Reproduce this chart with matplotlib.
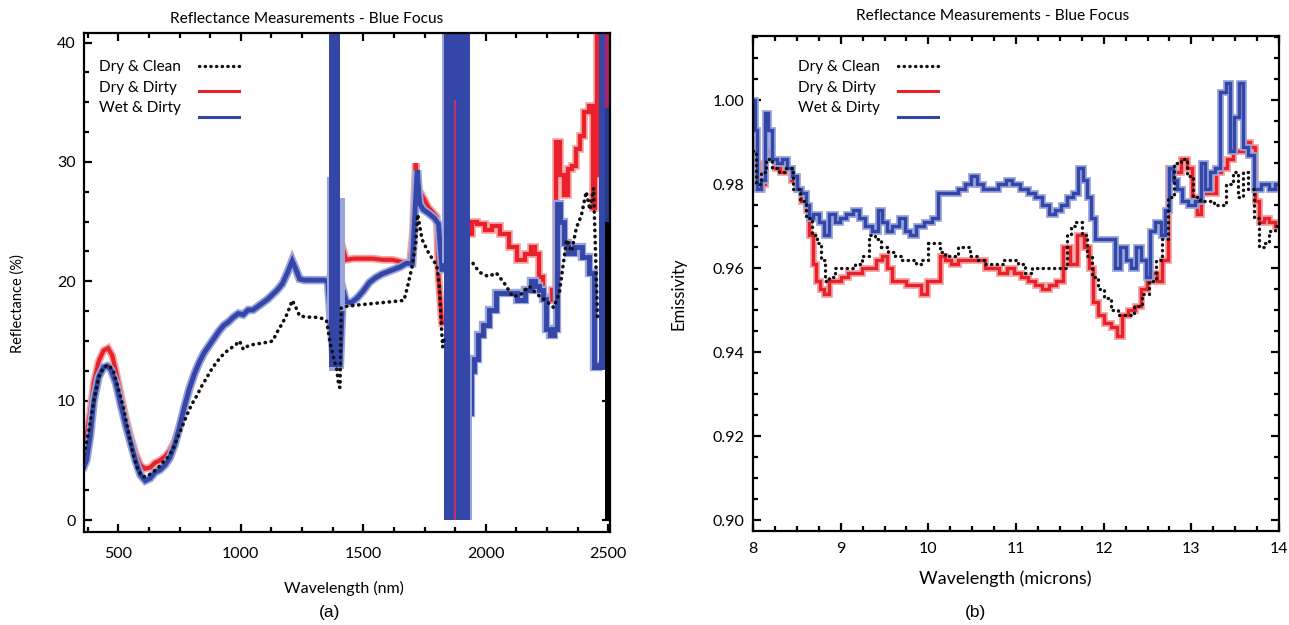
import matplotlib
matplotlib.use("Agg")
import matplotlib.pyplot as plt
from matplotlib.ticker import MultipleLocator, FormatStrFormatter

plt.rcParams['font.family'] = ['Lato', 'DejaVu Sans']

# ---------------- Panel (a): reflectance (nm, %) ----------------
wet_a_x = [360, 370, 385, 400, 420, 440, 455, 470, 490, 510, 530, 550, 570, 590, 610, 630, 650,
           670, 690, 710, 730, 750, 770, 790, 810, 830, 850, 870, 890, 910, 930, 950, 970, 990,
           1010, 1030, 1050, 1070, 1090, 1110, 1130, 1150, 1170, 1190, 1210, 1225, 1240, 1260,
           1300, 1340, 1355, 1380, 1405, 1417, 1430, 1450, 1475, 1500, 1525, 1550, 1575, 1600,
           1625, 1650, 1675, 1700, 1714, 1720, 1730, 1745, 1766, 1790, 1807, 1821]
wet_a_y = [4.5, 5.0, 7.0, 10.0, 12.0, 12.8, 12.9, 12.6, 11.5, 9.7, 8.0, 6.5, 5.0, 3.8, 3.3, 3.5, 4.0,
           4.2, 4.6, 5.2, 6.3, 7.8, 9.5, 11.0, 12.2, 13.2, 14.0, 14.6, 15.2, 15.8, 16.3, 16.6, 17.0, 17.3,
           17.2, 17.6, 17.6, 17.9, 18.2, 18.5, 18.9, 19.3, 19.8, 20.7, 21.7, 21.0, 20.2, 20.1,
           20.1, 20.1, 20.0, 13.0, 13.0, 19.3, 18.3, 18.2, 18.6, 19.2, 19.9, 20.3, 20.6, 20.8,
           21.0, 21.2, 21.5, 21.5, 27.0, 29.3, 26.5, 26.0, 25.7, 25.3, 24.8, 21.0]
wet_a2_x = [1935, 1945, 1960, 1975, 2000, 2027, 2060, 2085, 2110, 2143, 2177, 2194, 2210, 2227,
            2240, 2252, 2270, 2285, 2294, 2310, 2327, 2343, 2376, 2410, 2434, 2450, 2462]
wet_a2_y = [9.0, 12.5, 13.5, 15.5, 16.3, 17.6, 19.0, 19.0, 19.0, 18.4, 19.3, 20.0, 19.6, 19.3,
            18.5, 16.0, 15.5, 16.0, 26.5, 25.0, 23.2, 22.4, 22.9, 22.0, 20.7, 12.8, 13.0]

dry_a_x = [360, 370, 385, 400, 420, 440, 458, 475, 490, 510, 530, 550, 570, 590, 610, 630, 650,
           670, 690, 710, 730, 750, 770, 790, 810, 830, 850, 870, 890, 910, 930, 950, 970, 990,
           1010, 1030, 1050, 1070, 1090, 1110, 1130, 1150, 1170, 1190, 1210, 1225, 1240, 1260,
           1300, 1340, 1355, 1416, 1430, 1460, 1500, 1540, 1580, 1620, 1660, 1690, 1702, 1714,
           1725, 1740, 1766, 1800, 1807, 1821]
dry_a_y = [6.5, 7.0, 9.0, 11.5, 13.3, 14.2, 14.4, 13.8, 12.5, 10.5, 8.6, 7.0, 5.6, 4.6, 4.3, 4.4, 4.8,
           5.0, 5.3, 5.8, 6.6, 7.9, 9.5, 11.0, 12.2, 13.2, 14.0, 14.6, 15.2, 15.8, 16.3, 16.6, 17.0, 17.3,
           17.3, 17.6, 17.6, 17.9, 18.2, 18.5, 18.9, 19.3, 19.8, 20.7, 21.8, 21.0, 20.2, 20.1,
           20.1, 20.1, 20.0, 22.8, 21.8, 21.9, 21.9, 21.9, 21.8, 21.8, 21.6, 21.5, 24.0, 29.9,
           27.0, 27.2, 26.2, 25.4, 20.4, 16.5]
dry_a2_x = [1940, 1949, 1980, 2010, 2043, 2077, 2110, 2143, 2177, 2194, 2210, 2227, 2244, 2260,
            2277, 2294, 2310, 2327, 2343, 2360, 2376, 2393, 2410, 2434, 2442, 2450, 2460]
dry_a2_y = [24.0, 25.0, 24.8, 24.3, 24.6, 24.0, 22.9, 21.8, 22.3, 22.9, 22.3, 20.4, 18.7, 18.4,
            19.3, 31.7, 28.9, 27.2, 29.4, 29.7, 31.1, 32.2, 34.2, 34.7, 26.1, 28.9, 41.0]

clean_a_x = [360, 380, 400, 420, 440, 460, 480, 500, 520, 540, 560, 580, 600, 620, 640, 660, 680,
             700, 720, 740, 760, 780, 800, 820, 840, 860, 880, 900, 920, 940, 960, 980, 995, 1010,
             1030, 1050, 1080, 1110, 1130, 1150, 1170, 1190, 1210, 1225, 1240, 1270, 1300, 1330,
             1350, 1365, 1380, 1392, 1400, 1405, 1410, 1430, 1470, 1520, 1570, 1620, 1666, 1680,
             1700, 1714, 1722, 1740, 1766, 1800, 1810, 1818, 1824, 1832]
clean_a_y = [5.5, 7.5, 10.0, 12.0, 12.8, 13.0, 12.5, 11.0, 9.5, 7.5, 5.5, 4.2, 3.6, 3.7, 4.0, 4.3, 4.8,
             5.2, 5.8, 6.8, 7.8, 8.8, 9.7, 10.4, 11.2, 11.9, 12.6, 13.2, 13.7, 14.1, 14.4, 14.7, 15.0, 14.3,
             14.6, 14.7, 14.8, 14.9, 15.0, 15.8, 16.5, 17.3, 18.4, 17.8, 17.1, 17.0, 17.0, 16.9,
             16.7, 14.8, 13.5, 12.6, 11.2, 11.1, 17.8, 17.9, 18.0, 18.1, 18.2, 18.3, 18.4, 19.5,
             21.3, 23.2, 25.6, 23.5, 22.4, 21.3, 19.6, 16.5, 14.5, 15.5]
clean_a2_x = [1948, 1957, 1980, 2010, 2043, 2077, 2110, 2143, 2177, 2210, 2244, 2277, 2300, 2330,
              2350, 2370, 2390, 2410, 2425, 2440, 2450, 2456]
clean_a2_y = [21.5, 21.2, 20.7, 20.4, 20.7, 19.8, 18.7, 18.9, 19.6, 18.9, 18.4, 17.8, 19.0, 23.5,
              22.5, 24.5, 25.5, 27.5, 26.0, 27.8, 21.0, 17.0]

# noisy absorption bands (x, lower, upper)
band1_x = [1362, 1405]
band1_lo = [12.8, 12.8]
band1_hi = [41.0, 41.0]
band1_halo_x = [1350, 1362, 1405, 1425]
band1_halo_lo = [16.5, 12.5, 17.5, 17.5]
band1_halo_hi = [28.7, 41.0, 27.0, 27.0]
band2_x = [1828, 1935]
band2_lo = [0.0, 0.0]
band2_hi = [41.0, 41.0]
band2_halo_x = [1821, 1830, 1935, 1942]
band2_halo_lo = [21.5, 0.0, 0.0, 0.0]
band2_halo_hi = [41.0, 41.0, 13.0, 13.0]
red_spike_x = 1874
red_spike_top = 35.2
edge_blue_x = [2462, 2488]
edge_blue_lo = [12.6, 12.6]
edge_blue_hi = [41.0, 41.0]
edge_x = [2488, 2507]
edge_black_hi = [25.0, 25.0]
edge_navy_hi = [34.5, 34.5]
edge_red_hi = [41.0, 41.0]

# ---------------- Panel (b): emissivity (microns) ----------------
wet_b_x = [8.00, 8.04, 8.06, 8.12, 8.15, 8.20, 8.24, 8.30, 8.36, 8.42, 8.48, 8.52, 8.58, 8.62, 8.66,
           8.72, 8.78, 8.84, 8.90, 8.96, 9.02, 9.10, 9.18, 9.24, 9.32, 9.40, 9.45, 9.50, 9.55, 9.62,
           9.70, 9.76, 9.82, 9.90, 10.00, 10.08, 10.14, 10.22, 10.30, 10.38, 10.45, 10.52, 10.58,
           10.66, 10.75, 10.85, 10.92, 11.00, 11.10, 11.18, 11.26, 11.34, 11.42, 11.48, 11.55, 11.62,
           11.68, 11.74, 11.78, 11.84, 11.88, 11.92, 12.00, 12.10, 12.16, 12.22, 12.28, 12.34, 12.40,
           12.46, 12.50, 12.55, 12.62, 12.68, 12.72, 12.76, 12.82, 12.86, 12.92, 13.00, 13.08, 13.14,
           13.18, 13.24, 13.30, 13.36, 13.42, 13.46, 13.52, 13.56, 13.62, 13.68, 13.74, 13.85, 13.92,
           14.00]
wet_b_y = [1.000, 0.993, 0.979, 0.981, 0.997, 0.993, 0.986, 0.985, 0.986, 0.984, 0.982, 0.979, 0.978,
           0.975, 0.972, 0.973, 0.971, 0.968, 0.973, 0.971, 0.972, 0.973, 0.974, 0.972, 0.970, 0.969,
           0.974, 0.971, 0.969, 0.970, 0.972, 0.969, 0.968, 0.970, 0.971, 0.972, 0.978, 0.978, 0.978,
           0.979, 0.980, 0.982, 0.980, 0.979, 0.979, 0.980, 0.981, 0.980, 0.979, 0.978, 0.977, 0.975,
           0.973, 0.974, 0.975, 0.977, 0.978, 0.984, 0.981, 0.977, 0.972, 0.967, 0.967, 0.967, 0.960,
           0.965, 0.962, 0.960, 0.965, 0.962, 0.958, 0.969, 0.971, 0.968, 0.974, 0.984, 0.981, 0.979,
           0.976, 0.975, 0.976, 0.985, 0.979, 0.983, 0.984, 1.002, 1.004, 0.988, 0.996, 1.004, 0.989,
           0.987, 0.979, 0.980, 0.979, 0.980]

dry_b_x = [8.00, 8.05, 8.08, 8.12, 8.16, 8.22, 8.28, 8.34, 8.40, 8.46, 8.52, 8.58, 8.62, 8.66, 8.70,
           8.74, 8.78, 8.84, 8.90, 8.96, 9.04, 9.12, 9.20, 9.28, 9.36, 9.44, 9.50, 9.56, 9.62, 9.70,
           9.80, 9.88, 9.95, 10.02, 10.10, 10.16, 10.22, 10.30, 10.38, 10.45, 10.52, 10.62, 10.68,
           10.76, 10.86, 10.94, 11.02, 11.10, 11.18, 11.26, 11.34, 11.42, 11.50, 11.58, 11.66, 11.74,
           11.80, 11.86, 11.90, 11.96, 12.04, 12.12, 12.18, 12.24, 12.32, 12.40, 12.46, 12.52, 12.58,
           12.64, 12.70, 12.76, 12.84, 12.92, 12.98, 13.04, 13.09, 13.14, 13.20, 13.26, 13.30, 13.38,
           13.44, 13.50, 13.58, 13.64, 13.70, 13.75, 13.80, 13.86, 13.92, 14.00]
dry_b_y = [0.991, 0.985, 0.979, 0.980, 0.988, 0.986, 0.984, 0.983, 0.984, 0.981, 0.979, 0.976, 0.974,
           0.968, 0.961, 0.957, 0.955, 0.954, 0.957, 0.957, 0.958, 0.959, 0.959, 0.960, 0.960, 0.962,
           0.963, 0.960, 0.957, 0.957, 0.956, 0.956, 0.954, 0.957, 0.957, 0.963, 0.962, 0.961, 0.962,
           0.962, 0.962, 0.962, 0.960, 0.960, 0.959, 0.960, 0.959, 0.958, 0.957, 0.956, 0.955, 0.956,
           0.957, 0.965, 0.961, 0.968, 0.965, 0.960, 0.952, 0.949, 0.947, 0.946, 0.944, 0.949, 0.950,
           0.951, 0.955, 0.957, 0.959, 0.957, 0.962, 0.984, 0.983, 0.986, 0.984, 0.977, 0.973, 0.980,
           0.978, 0.978, 0.983, 0.984, 0.986, 0.988, 0.988, 0.990, 0.989, 0.976, 0.971, 0.972, 0.971,
           0.970]

clean_b_x = [8.00, 8.06, 8.12, 8.18, 8.26, 8.34, 8.42, 8.50, 8.58, 8.64, 8.70, 8.76, 8.80, 8.84, 8.90,
             8.96, 9.04, 9.12, 9.20, 9.28, 9.36, 9.42, 9.50, 9.58, 9.66, 9.74, 9.82, 9.90, 9.96, 10.04,
             10.10, 10.16, 10.22, 10.30, 10.38, 10.44, 10.52, 10.60, 10.70, 10.80, 10.90, 10.98, 11.06,
             11.14, 11.22, 11.30, 11.40, 11.50, 11.56, 11.60, 11.66, 11.72, 11.78, 11.84, 11.90, 11.96,
             12.04, 12.12, 12.20, 12.30, 12.40, 12.48, 12.56, 12.64, 12.70, 12.76, 12.84, 12.92, 12.98,
             13.06, 13.14, 13.22, 13.30, 13.36, 13.44, 13.50, 13.56, 13.62, 13.68, 13.74, 13.80, 13.86,
             13.92, 14.00]
clean_b_y = [0.988, 0.980, 0.983, 0.986, 0.984, 0.983, 0.984, 0.979, 0.976, 0.972, 0.968, 0.966, 0.962,
             0.957, 0.958, 0.960, 0.960, 0.960, 0.961, 0.963, 0.968, 0.967, 0.965, 0.964, 0.963, 0.962,
             0.962, 0.961, 0.962, 0.966, 0.966, 0.964, 0.963, 0.963, 0.965, 0.965, 0.963, 0.962, 0.961,
             0.961, 0.962, 0.962, 0.961, 0.959, 0.960, 0.960, 0.960, 0.960, 0.960, 0.968, 0.970, 0.971,
             0.968, 0.963, 0.958, 0.955, 0.953, 0.950, 0.949, 0.949, 0.951, 0.954, 0.957, 0.962, 0.967,
             0.977, 0.985, 0.986, 0.982, 0.977, 0.976, 0.976, 0.975, 0.975, 0.980, 0.983, 0.977, 0.983,
             0.979, 0.972, 0.965, 0.966, 0.969, 0.970]

labels = ["Dry & Clean", "Dry & Dirty", "Wet & Dirty"]
title = "Reflectance Measurements - Blue Focus"

BLUE = '#3447a8'
BLUE_L = '#9aa5dc'
RED = '#e8212b'
RED_L = '#f3a3a3'
BLACK = '#111111'
DOTS = (0, (0.1, 1.6))

W, H = 1289, 625
fig = plt.figure(figsize=(W / 100, H / 100), dpi=100)
# axes boxes in pixels: left, top, right, bottom
boxes = {'a': (84, 33, 610, 532), 'b': (753, 36, 1279, 531)}


def make_axes(b):
    l, t, r, bt = b
    return fig.add_axes([l / W, 1 - bt / H, (r - l) / W, (bt - t) / H])


axa = make_axes(boxes['a'])
axb = make_axes(boxes['b'])


def halo_line(ax, x, y, core, light, lw, z, ds):
    ax.plot(x, y, color=light, lw=lw + 2.5, drawstyle=ds, zorder=z, solid_joinstyle='miter')
    ax.plot(x, y, color=core, lw=lw, drawstyle=ds, zorder=z + 0.1, solid_joinstyle='miter')


def dotted(ax, x, y, lw, z, ds):
    ax.plot(x, y, color=BLACK, lw=lw, linestyle=DOTS, dash_capstyle='round',
            drawstyle=ds, zorder=z)


# ---- panel a ----
halo_line(axa, dry_a_x, dry_a_y, RED, RED_L, 3.0, 2, 'default')
halo_line(axa, dry_a2_x, dry_a2_y, RED, RED_L, 3.0, 2, 'steps-mid')
halo_line(axa, wet_a_x, wet_a_y, BLUE, BLUE_L, 3.5, 3, 'default')
halo_line(axa, wet_a2_x, wet_a2_y, BLUE, BLUE_L, 3.5, 3, 'steps-mid')
axa.fill_between(band1_halo_x, band1_halo_lo, band1_halo_hi, step='post', color=BLUE_L, lw=0, zorder=3.5)
axa.fill_between(band1_x, band1_lo, band1_hi, color=BLUE, lw=0, zorder=3.6)
axa.fill_between(band2_halo_x, band2_halo_lo, band2_halo_hi, step='post', color=BLUE_L, lw=0, zorder=3.5)
axa.fill_between(band2_x, band2_lo, band2_hi, color=BLUE, lw=0, zorder=3.6)
axa.vlines(red_spike_x, 0, red_spike_top, color='#c0306a', lw=1.5, zorder=3.7)
axa.fill_between(edge_blue_x, edge_blue_lo, edge_blue_hi, color=BLUE, lw=0, zorder=3.6)
axa.fill_between(edge_x, [0, 0], edge_black_hi, color='black', lw=0, zorder=3.6)
axa.fill_between(edge_x, edge_black_hi, edge_navy_hi, color='#2a3a8a', lw=0, zorder=3.6)
axa.fill_between(edge_x, edge_navy_hi, edge_red_hi, color='#b0206a', lw=0, zorder=3.6)
dotted(axa, clean_a_x, clean_a_y, 2.6, 5, 'default')
dotted(axa, clean_a2_x, clean_a2_y, 2.6, 5, 'default')

axa.set_xlim(360, 2507)
axa.set_ylim(-1.0, 40.8)
axa.xaxis.set_major_locator(MultipleLocator(500))
axa.xaxis.set_minor_locator(MultipleLocator(125))
axa.yaxis.set_major_locator(MultipleLocator(10))
axa.yaxis.set_minor_locator(MultipleLocator(2.5))

# ---- panel b ----
halo_line(axb, dry_b_x, dry_b_y, RED, RED_L, 2.4, 2, 'steps-mid')
halo_line(axb, wet_b_x, wet_b_y, BLUE, BLUE_L, 2.4, 3, 'steps-mid')
dotted(axb, clean_b_x, clean_b_y, 2.4, 5, 'steps-mid')
axb.set_xlim(8, 14)
axb.set_ylim(0.8975, 1.0153)
axb.xaxis.set_major_locator(MultipleLocator(1))
axb.xaxis.set_minor_locator(MultipleLocator(0.25))
axb.yaxis.set_major_locator(MultipleLocator(0.02))
axb.yaxis.set_minor_locator(MultipleLocator(0.005))
axb.yaxis.set_major_formatter(FormatStrFormatter('%.2f'))


def px_to_axes(key, px, py):
    l, t, r, bt = boxes[key]
    return (px - l) / (r - l), (bt - py) / (bt - t)


text_specs = {
    'a': dict(title=(307, 19), xlabel=("Wavelength (nm)", 344, 588, 11.5),
              ylabel=("Reflectance (%)", 18, 304, 10.5), legend_x=(99, 199, 239)),
    'b': dict(title=(993, 16), xlabel=("Wavelength (microns)", 1005, 579, 13),
              ylabel=("Emissivity", 678, 294, 12), legend_x=(798, 898, 938)),
}
legend_text_y = [67, 88, 108]
legend_line_y = [66, 91, 117]
legend_styles = [dict(color=BLACK, lw=2.4, linestyle=DOTS, dash_capstyle='round'),
                 dict(color=RED, lw=2.2), dict(color=BLUE, lw=2.2)]

for key, ax in (('a', axa), ('b', axb)):
    spec = text_specs[key]
    tx, ty = px_to_axes(key, *spec['title'])
    ax.text(tx, ty, title, transform=ax.transAxes, ha='center', va='center', fontsize=11.2)
    name, lx, ly, fs = spec['xlabel']
    ax.text(*px_to_axes(key, lx, ly), name, transform=ax.transAxes, ha='center', va='center',
            fontsize=fs)
    name, lx, ly, fs = spec['ylabel']
    ax.text(*px_to_axes(key, lx, ly), name, transform=ax.transAxes, ha='center', va='center',
            fontsize=fs, rotation=90)
    tx0, lx0, lx1 = spec['legend_x']
    for lab, yt, yl, st in zip(labels, legend_text_y, legend_line_y, legend_styles):
        ax.text(*px_to_axes(key, tx0, yt), lab, transform=ax.transAxes, ha='left', va='center',
                fontsize=11)
        xa0, ya = px_to_axes(key, lx0, yl)
        xa1, _ = px_to_axes(key, lx1, yl)
        ax.plot([xa0, xa1], [ya, ya], transform=ax.transAxes, zorder=7, **st)

    for s in ax.spines.values():
        s.set_linewidth(1.6)
        s.set_zorder(6)
    ax.tick_params(which='both', direction='in', top=True, right=True, width=1.6, labelsize=11.5)
    ax.tick_params(which='major', length=6)
    ax.tick_params(which='minor', length=3.5)
    ax.tick_params(axis='y', which='major', pad=6)

axa.tick_params(axis='x', which='major', pad=11)
axb.tick_params(axis='x', which='major', pad=8)

fig.text(330 / W, 1 - 613 / H, "(a)", ha='center', va='center', fontsize=12.5, family='Liberation Sans')
fig.text(976 / W, 1 - 613 / H, "(b)", ha='center', va='center', fontsize=12.5, family='Liberation Sans')

fig.savefig("out.png", dpi=100)
